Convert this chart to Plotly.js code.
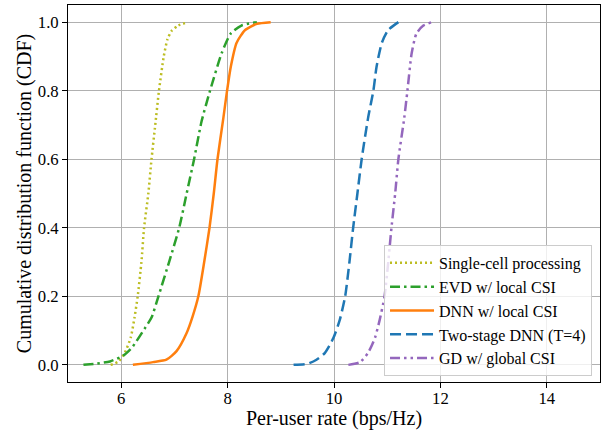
<!DOCTYPE html>
<html>
<head>
<meta charset="utf-8">
<script src="https://cdn.plot.ly/plotly-3.0.1.min.js"></script>
<style>html,body{margin:0;padding:0;background:#fff;}#chart{width:612px;height:430px;}</style>
</head>
<body>
<div id="chart"></div>
<script>
// Single-cell processing
const singleX = [5.80, 5.95, 6.07, 6.18, 6.25, 6.31, 6.38, 6.43, 6.51, 6.57, 6.64, 6.71, 6.80, 6.87, 6.95, 7.07, 7.26];
const singleY = [0, 0.01, 0.036, 0.08, 0.138, 0.2, 0.3, 0.4, 0.5, 0.6, 0.7, 0.8, 0.9, 0.95, 0.975, 0.99, 1.0];
// EVD w/ local CSI
const evdX = [5.29, 5.55, 5.79, 6.04, 6.20, 6.45, 6.57, 6.70, 6.90, 7.09, 7.23, 7.37, 7.51, 7.67, 7.89, 8.06, 8.26, 8.55];
const evdY = [0, 0.004, 0.01, 0.027, 0.05, 0.108, 0.138, 0.2, 0.3, 0.4, 0.5, 0.6, 0.71, 0.8, 0.91, 0.967, 0.99, 1.0];
// DNN w/ local CSI
const dnnX = [6.22, 6.60, 6.85, 7.04, 7.23, 7.34, 7.45, 7.56, 7.66, 7.74, 7.81, 7.92, 7.99, 8.06, 8.17, 8.33, 8.55, 8.81];
const dnnY = [0, 0.008, 0.015, 0.04, 0.093, 0.14, 0.2, 0.3, 0.4, 0.5, 0.6, 0.72, 0.8, 0.87, 0.94, 0.977, 0.995, 1.0];
// Two-stage DNN (T=4)
const twoX = [9.24, 9.50, 9.67, 9.83, 9.99, 10.11, 10.21, 10.29, 10.36, 10.44, 10.52, 10.64, 10.74, 10.80, 10.90, 11.02, 11.21];
const twoY = [0, 0.003, 0.015, 0.035, 0.079, 0.132, 0.2, 0.3, 0.4, 0.5, 0.6, 0.72, 0.8, 0.87, 0.94, 0.977, 1.0];
// GD w/ global CSI
const gdX = [10.27, 10.49, 10.64, 10.77, 10.86, 10.95, 11.02, 11.08, 11.15, 11.21, 11.32, 11.38, 11.46, 11.55, 11.68, 11.84];
const gdY = [0, 0.008, 0.035, 0.079, 0.132, 0.2, 0.3, 0.4, 0.5, 0.6, 0.72, 0.8, 0.909, 0.967, 0.99, 1.0];

const names = ["Single-cell processing", "EVD w/ local CSI", "DNN w/ local CSI", "Two-stage DNN (T=4)", "GD w/ global CSI"];
const xTicks = [6, 8, 10, 12, 14];
const yTicks = [0, 0.2, 0.4, 0.6, 0.8, 1.0];

const W = 2.5;
const traces = [
  {x: singleX, y: singleY, name: names[0], mode: "lines", line: {color: "#bcbd22", width: W, dash: "2px,3px", shape: "spline", smoothing: 0.6}},
  {x: evdX, y: evdY, name: names[1], mode: "lines", line: {color: "#2ca02c", width: W, dash: "10px,4px,2.5px,4px", shape: "spline", smoothing: 0.6}},
  {x: dnnX, y: dnnY, name: names[2], mode: "lines", line: {color: "#ff7f0e", width: W, shape: "spline", smoothing: 0.6}},
  {x: twoX, y: twoY, name: names[3], mode: "lines", line: {color: "#1f77b4", width: W, dash: "11px,5px", shape: "spline", smoothing: 0.6}},
  {x: gdX, y: gdY, name: names[4], mode: "lines", line: {color: "#9467bd", width: W, dash: "10px,4px,2.5px,4px,2.5px,4px", shape: "spline", smoothing: 0.6}}
];

const font = "Liberation Serif, Times New Roman, serif";
const layout = {
  width: 612, height: 430,
  margin: {l: 68, r: 12, t: 5, b: 48},
  paper_bgcolor: "#fff", plot_bgcolor: "#fff",
  font: {family: font, size: 16.5, color: "#000"},
  showlegend: true,
  xaxis: {
    range: [5, 15], tickvals: xTicks, ticktext: xTicks.map(String),
    showgrid: true, gridcolor: "#b0b0b0", gridwidth: 1,
    zeroline: false, showline: true, linecolor: "#000", linewidth: 1, mirror: true,
    ticks: "outside", ticklen: 5, tickcolor: "#000",
    tickfont: {family: font, size: 16.7}, ticklabelstandoff: -4,
    title: {text: "Per-user rate (bps/Hz)", font: {family: font, size: 20}, standoff: 8}
  },
  yaxis: {
    range: [-0.05, 1.05], tickvals: yTicks, ticktext: yTicks.map(v => v.toFixed(1)),
    showgrid: true, gridcolor: "#b0b0b0", gridwidth: 1,
    zeroline: false, showline: true, linecolor: "#000", linewidth: 1, mirror: true,
    ticks: "outside", ticklen: 5, tickcolor: "#000",
    tickfont: {family: font, size: 16.7}, ticklabelstandoff: 0,
    title: {text: "Cumulative distribution function (CDF)", font: {family: font, size: 20}, standoff: 0}
  },
  legend: {
    x: 0.985, y: 0.016, xanchor: "right", yanchor: "bottom",
    bgcolor: "rgba(255,255,255,0.8)", bordercolor: "#cccccc", borderwidth: 1,
    font: {family: font, size: 16}, tracegroupgap: 0, itemwidth: 44
  }
};

Plotly.newPlot("chart", traces, layout, {displayModeBar: false, staticPlot: true});
</script>
</body>
</html>
